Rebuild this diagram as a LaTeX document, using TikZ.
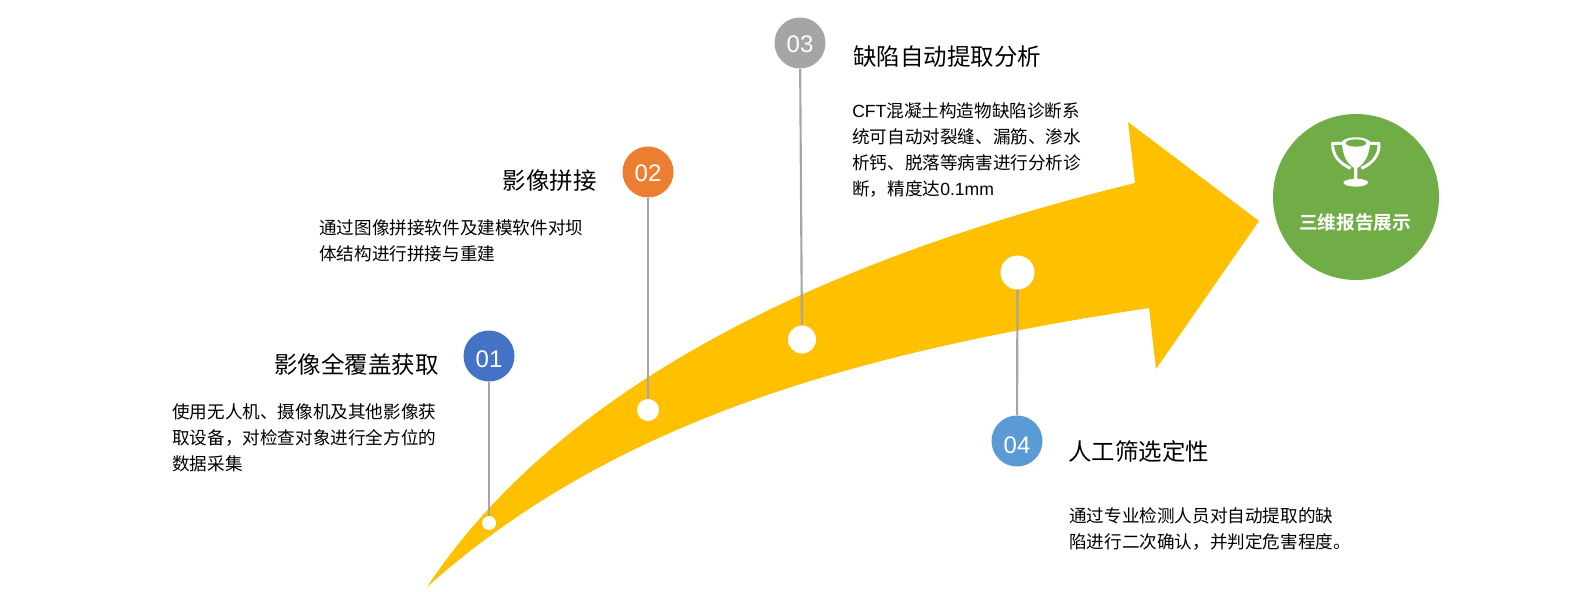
\documentclass[tikz,border=0pt]{standalone}
\usepackage{fontspec}
\setmainfont{Liberation Sans}
\newfontfamily\cjk{Noto Sans CJK SC}
\newfontfamily\cjkb{Noto Sans CJK SC Bold}
\definecolor{arrowY}{HTML}{FFC000}
\definecolor{cBlue}{HTML}{4472C4}
\definecolor{cOrange}{HTML}{ED7D31}
\definecolor{cGray}{HTML}{A5A5A5}
\definecolor{cSky}{HTML}{5B9BD5}
\definecolor{cGreen}{HTML}{70AD47}
\newcommand{\lat}[1]{{\normalfont\fontsize{13.2}{19.5}\selectfont #1}}
\newcommand{\dropnum}[2]{\raisebox{-#1}[13pt][0pt]{#2}}
\tikzset{
  badge/.style={circle,minimum size=38.25pt,inner sep=0pt,text=white,font=\fontsize{18}{18}\selectfont},
  dot/.style={circle,fill=white,inner sep=0pt,minimum size=#1},
  stem/.style={draw=cGray,line width=1.6pt},
  ttl/.style={inner sep=0pt,text=black,font=\cjk\fontsize{17.6}{20}\selectfont},
  body/.style={inner sep=0pt,text=black,align=left,font=\cjk\fontsize{13.2}{19.5}\selectfont},
}
\begin{document}
\begin{tikzpicture}[x=0.75pt,y=-0.75pt]
\useasboundingbox (0,0) rectangle (1592,592);
\fill[arrowY] (427,587) .. controls (553,397) and (800,265) .. (1135,183)
  -- (1128,122) -- (1259,221) -- (1156,369) -- (1149,308)
  .. controls (860,352) and (615,419) .. (427,587) -- cycle;
\node[dot=10.5pt] (d1) at (489,523) {};
\node[dot=16.5pt] (d2) at (648,410) {};
\node[dot=21pt] (d3) at (802,339.5) {};
\node[dot=25.5pt] (d4) at (1017.5,272.5) {};
\node[badge,fill=cBlue] (b1) at (489,356) {\dropnum{2pt}{01}};
\node[badge,fill=cOrange] (b2) at (648,172) {\dropnum{0.8pt}{02}};
\node[badge,fill=cGray] (b3) at (800,43) {\dropnum{0.8pt}{03}};
\node[badge,fill=cSky] (b4) at (1017,441) {\dropnum{2.5pt}{04}};
\draw[stem] (b1) -- (d1);
\draw[stem] (b2) -- (d2);
\draw[stem] (b3) -- (d3);
\draw[stem] (d4) -- (b4);
\node[ttl,anchor=east] (t1) at (439,364) {影像全覆盖获取};
\node[body,anchor=north west] (p1) at (172,403) {使用无人机、摄像机及其他影像获\\取设备，对检查对象进行全方位的\\数据采集};
\node[ttl,anchor=east] (t2) at (597,181) {影像拼接};
\node[body,anchor=north west] (p2) at (319,219) {通过图像拼接软件及建模软件对坝\\体结构进行拼接与重建};
\node[ttl,anchor=west] (t3) at (853,57) {缺陷自动提取分析};
\node[body,anchor=north west] (p3) at (852,102) {\lat{CFT}混凝土构造物缺陷诊断系\\统可自动对裂缝、漏筋、渗水\\析钙、脱落等病害进行分析诊\\断，精度达\lat{0.1mm}};
\node[ttl,anchor=west] (t4) at (1068,452) {人工筛选定性};
\node[body,anchor=north west] (p4) at (1069,507) {通过专业检测人员对自动提取的缺\\陷进行二次确认，并判定危害程度。};
\node[circle,fill=cGreen,minimum size=124.5pt,inner sep=0pt] (g) at (1356,197) {};
\node[text=white,inner sep=0pt,font=\cjkb\fontsize{14}{16}\selectfont] (gl) at (1355,222.5) {三维报告展示};
% trophy
\begin{scope}[shift={(1250,100)},x=0.25pt,y=-0.25pt]
\draw[white,line width=2.2pt,line join=round] (280,130) -- (248,130)
  .. controls (246,165) and (268,190) .. (302,205);
\draw[white,line width=2.2pt,line join=round] (356,130) -- (387,130)
  .. controls (389,165) and (368,190) .. (334,205);
\fill[white] (318,130) ellipse (44 and 18);
\fill[white] (276,130) .. controls (278,165) and (290,190) .. (312,204) -- (312,236)
  .. controls (292,238) and (280,243) .. (280,248)
  .. controls (284,264) and (350,264) .. (354,248)
  .. controls (355,243) and (345,238) .. (322,236) -- (322,204)
  .. controls (345,190) and (358,165) .. (360,130) -- cycle;
\fill[cGreen] (318,129) ellipse (31 and 11);
\end{scope}
\end{tikzpicture}
\end{document}
